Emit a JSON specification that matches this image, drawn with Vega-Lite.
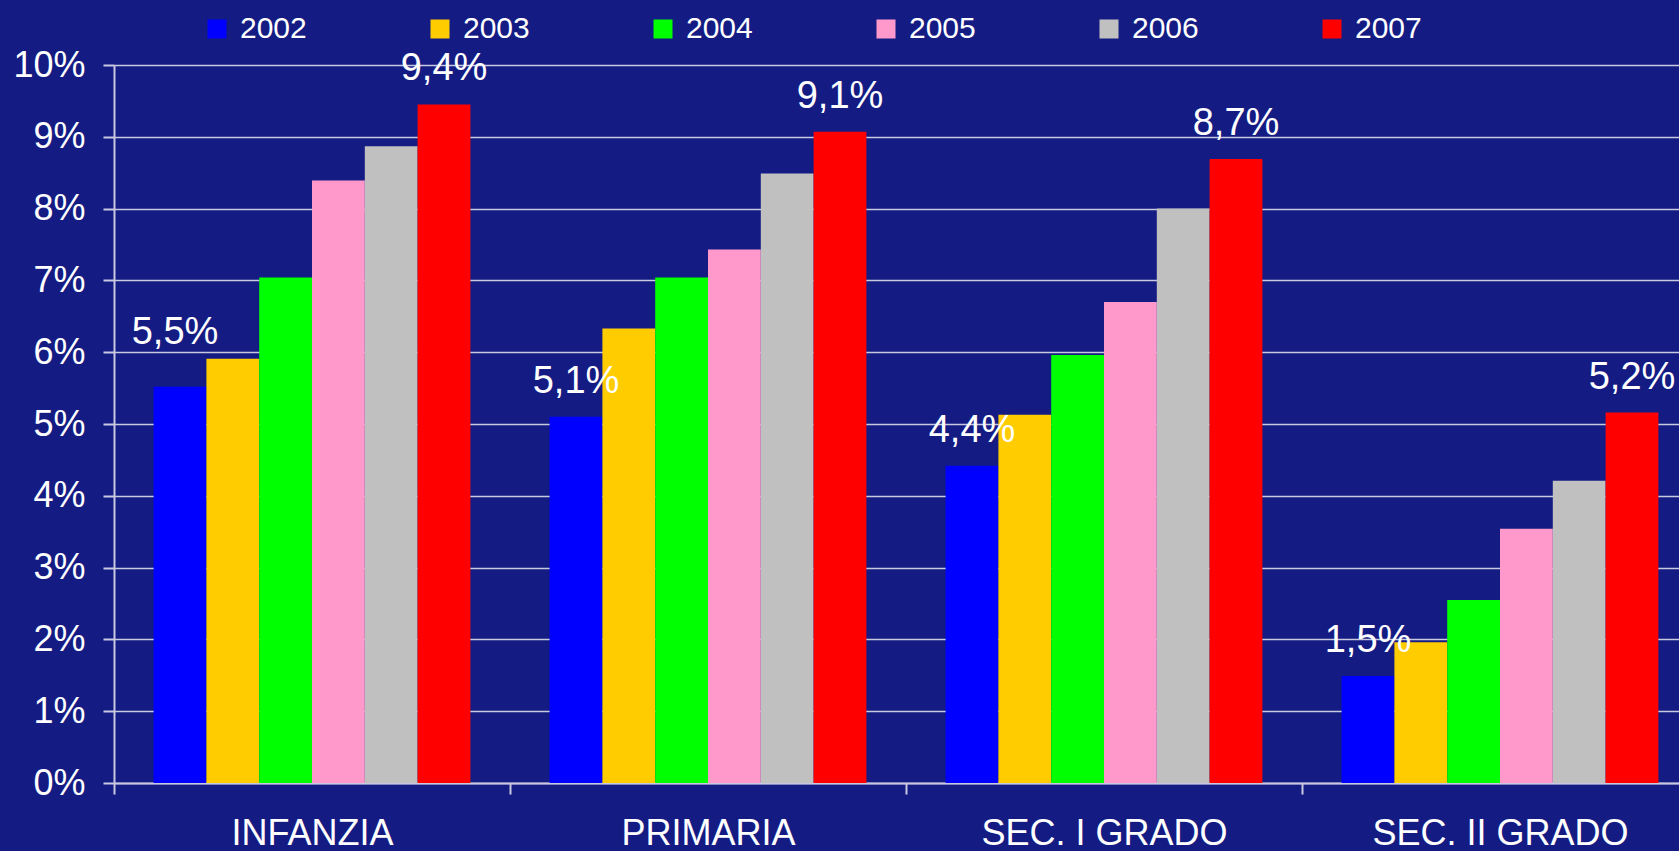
{
  "$schema": "https://vega.github.io/schema/vega-lite/v6.json",
  "width": 1565,
  "height": 718,
  "autosize": "none",
  "padding": {"left": 114, "top": 65, "right": 0, "bottom": 68},
  "background": "#141C84",
  "config": {"view": {"stroke": null}, "font": "Liberation Sans"},
  "data": {
    "values": [
      {"level": "INFANZIA", "year": "2002", "value": 5.52},
      {"level": "INFANZIA", "year": "2003", "value": 5.91},
      {"level": "INFANZIA", "year": "2004", "value": 7.04},
      {"level": "INFANZIA", "year": "2005", "value": 8.39},
      {"level": "INFANZIA", "year": "2006", "value": 8.87},
      {"level": "INFANZIA", "year": "2007", "value": 9.45},
      {"level": "PRIMARIA", "year": "2002", "value": 5.1},
      {"level": "PRIMARIA", "year": "2003", "value": 6.33},
      {"level": "PRIMARIA", "year": "2004", "value": 7.04},
      {"level": "PRIMARIA", "year": "2005", "value": 7.43},
      {"level": "PRIMARIA", "year": "2006", "value": 8.49},
      {"level": "PRIMARIA", "year": "2007", "value": 9.07},
      {"level": "SEC. I GRADO", "year": "2002", "value": 4.42},
      {"level": "SEC. I GRADO", "year": "2003", "value": 5.13},
      {"level": "SEC. I GRADO", "year": "2004", "value": 5.96},
      {"level": "SEC. I GRADO", "year": "2005", "value": 6.7},
      {"level": "SEC. I GRADO", "year": "2006", "value": 8.0},
      {"level": "SEC. I GRADO", "year": "2007", "value": 8.69},
      {"level": "SEC. II GRADO", "year": "2002", "value": 1.49},
      {"level": "SEC. II GRADO", "year": "2003", "value": 1.96},
      {"level": "SEC. II GRADO", "year": "2004", "value": 2.55},
      {"level": "SEC. II GRADO", "year": "2005", "value": 3.54},
      {"level": "SEC. II GRADO", "year": "2006", "value": 4.21},
      {"level": "SEC. II GRADO", "year": "2007", "value": 5.16}
    ]
  },
  "encoding": {
    "x": {
      "field": "level",
      "type": "nominal",
      "sort": ["INFANZIA", "PRIMARIA", "SEC. I GRADO", "SEC. II GRADO"],
      "scale": {"range": [0, 1584], "paddingInner": 0.2, "paddingOuter": 0.1},
      "axis": {
        "title": null,
        "labelAngle": 0,
        "labelFontSize": 36,
        "labelColor": "white",
        "labelPadding": 22,
        "labelLimit": 0,
        "tickOffset": -198,
        "labelOffset": 198,
        "tickSize": 11,
        "tickColor": "#C8C8E0",
        "tickWidth": 2,
        "domainColor": "#C8C8E0",
        "domainWidth": 2,
        "grid": false
      }
    },
    "xOffset": {
      "field": "year",
      "type": "nominal",
      "scale": {"paddingInner": 0, "paddingOuter": 0}
    },
    "y": {
      "field": "value",
      "type": "quantitative",
      "scale": {"domain": [0, 10], "nice": false},
      "axis": {
        "title": null,
        "values": [0, 1, 2, 3, 4, 5, 6, 7, 8, 9, 10],
        "labelExpr": "datum.value + '%'",
        "labelFontSize": 36,
        "labelColor": "white",
        "labelPadding": 18,
        "tickSize": 11,
        "tickColor": "#C8C8E0",
        "tickWidth": 2,
        "domainColor": "#C8C8E0",
        "domainWidth": 2,
        "gridColor": "#C8C8E0",
        "gridWidth": 1.5,
        "gridOpacity": 1
      }
    }
  },
  "layer": [
    {
      "mark": {"type": "bar"},
      "encoding": {
        "color": {
          "field": "year",
          "type": "nominal",
          "scale": {"range": ["#0000FF", "#FFCC00", "#00FF00", "#FF99CC", "#C0C0C0", "#FF0000"]},
          "legend": {
            "orient": "none",
            "legendX": 88,
            "legendY": -51,
            "direction": "horizontal",
            "columns": 6,
            "title": null,
            "symbolType": "square",
            "symbolSize": 361,
            "symbolStrokeWidth": 0,
            "symbolOpacity": 1,
            "labelFontSize": 30,
            "labelColor": "white",
            "labelOffset": 8,
            "columnPadding": 118,
            "padding": 0
          }
        }
      }
    },
    {
      "transform": [
        {"filter": "(datum.year == '2002' || datum.year == '2007') && !(datum.level == 'INFANZIA' && datum.year == '2002')"},
        {"calculate": "replace(format(datum.value, '.1f'), '.', ',') + '%'", "as": "label"}
      ],
      "mark": {"type": "text", "dy": -24, "baseline": "alphabetic", "fontSize": 38, "color": "white"},
      "encoding": {"text": {"field": "label", "type": "nominal"}}
    },
    {
      "transform": [
        {"filter": "datum.level == 'INFANZIA' && datum.year == '2002'"},
        {"calculate": "replace(format(datum.value, '.1f'), '.', ',') + '%'", "as": "label"}
      ],
      "mark": {"type": "text", "dy": -43, "dx": -5, "baseline": "alphabetic", "fontSize": 38, "color": "white"},
      "encoding": {"text": {"field": "label", "type": "nominal"}}
    }
  ]
}
